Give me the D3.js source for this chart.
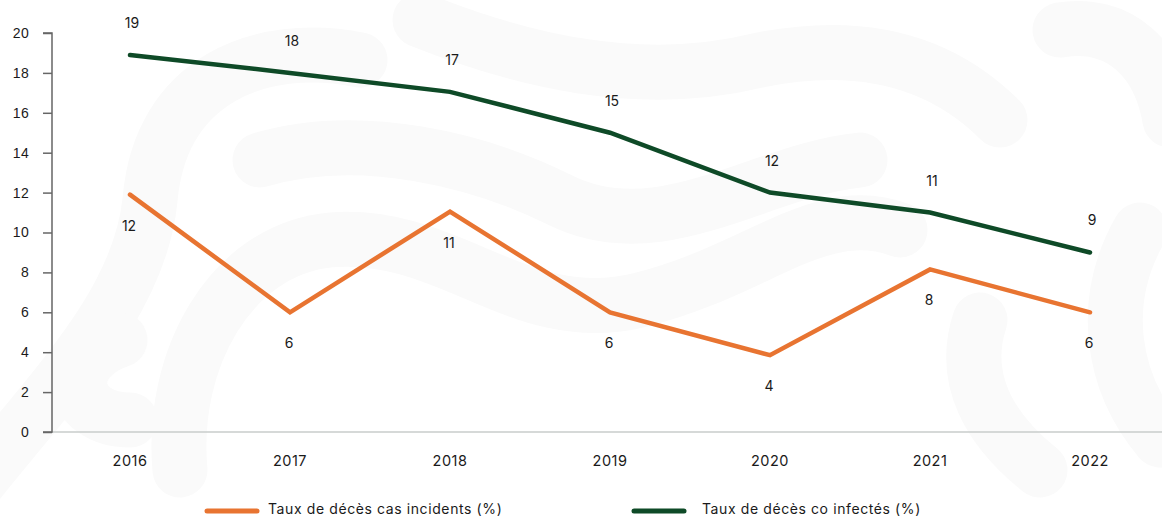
<!DOCTYPE html>
<meta charset="utf-8">
<script src="https://cdn.jsdelivr.net/npm/d3@7/dist/d3.min.js"></script>
<style>
    body { margin: 0; background: #fff; }
    svg { font-family: "Inter", "Lato", sans-serif; }
    .tick text { fill: #1a1a1a; }
    .deco { fill: none; stroke: #fafafa; stroke-linecap: round; }
    .line { fill: none; stroke-width: 4.5; stroke-linejoin: miter; stroke-linecap: round; }
    .val { font-size: 14px; fill: #1a1a1a; text-anchor: middle; }
</style>
<body>
<script>

    var years = ["2016", "2017", "2018", "2019", "2020", "2021", "2022"]
    var incidents = [11.9, 6.0, 11.05, 6.0, 3.85, 8.15, 6.0]
    var coInfected = [18.9, 18.0, 17.05, 15.0, 12.0, 11.0, 9.0]
    var yTicks = [0, 2, 4, 6, 8, 10, 12, 14, 16, 18, 20]
    var seriesNames = ["Taux de décès cas incidents (%)", "Taux de décès co infectés (%)"]
    var colors = ["#E87431", "#0E4A27"]

    var w = 1162, h = 517
    var svg = d3.select("body").append("svg").attr("width", w).attr("height", h)

    // faint background swirls
    var deco = svg.append("g")
    var decoPaths = [
        "M-20,480 C60,380 140,300 150,200 C160,80 260,40 360,60",
        "M180,470 C170,360 230,250 330,240 C450,230 520,330 640,300 C760,270 820,200 900,230",
        "M420,20 C520,60 640,90 760,60 C860,40 940,60 1000,120",
        "M260,160 C360,130 480,160 560,200 C660,250 760,170 860,160",
        "M1060,30 C1120,20 1160,60 1170,120",
        "M1140,230 C1100,300 1110,380 1160,440",
        "M980,320 C960,380 990,430 1040,470",
        "M120,340 C60,360 70,420 130,420"
    ]
    deco.selectAll("path").data(decoPaths).enter().append("path")
        .attr("class", "deco").attr("d", d => d).attr("stroke-width", 55)

    var x = d3.scaleBand().domain(years).range([50, 1170])
    var y = d3.scaleLinear().domain([0, 20]).range([432, 33])
    var cx = d => x(d) + x.bandwidth() / 2

    // x axis line
    svg.append("line").attr("x1", 52).attr("x2", w).attr("y1", y(0)).attr("y2", y(0))
        .attr("stroke", "#c9cdcb").attr("stroke-width", 1.5)

    // y axis
    var yAxis = d3.axisLeft(y).tickValues(yTicks).tickSize(9).tickPadding(14)
    var gy = svg.append("g").attr("transform", "translate(52,0)").call(yAxis)
    gy.select(".domain").attr("stroke", "#666").attr("stroke-width", 1.5).attr("d", "M-9," + y(20) + "H0V" + y(0) + "H-9")
    gy.selectAll(".tick line").attr("stroke", "#666").attr("stroke-width", 1.5)
    gy.selectAll(".tick text").style("font-size", "14px").style("letter-spacing", "0.3px")

    // x labels
    svg.append("g").selectAll("text").data(years).enter().append("text")
        .attr("x", d => cx(d)).attr("y", 466).attr("text-anchor", "middle")
        .style("font-size", "14.5px").style("letter-spacing", "0.5px").attr("fill", "#1a1a1a").text(d => d)

    var line = d3.line().x((d, i) => cx(years[i])).y(d => y(d))

    svg.append("path").datum(coInfected).attr("class", "line").attr("d", line).attr("stroke", colors[1])
    svg.append("path").datum(incidents).attr("class", "line").attr("d", line).attr("stroke", colors[0])

    svg.append("g").selectAll("text").data(coInfected).enter().append("text")
        .attr("class", "val").attr("x", (d, i) => cx(years[i]) + 2).attr("y", d => y(d) - 27)
        .text(d => Math.round(d))
    svg.append("g").selectAll("text").data(incidents).enter().append("text")
        .attr("class", "val").attr("x", (d, i) => cx(years[i]) - 1).attr("y", d => y(d) + 36)
        .text(d => Math.round(d))

    // legend
    var legendX = [205, 632]
    seriesNames.forEach((name, i) => {
        var g = svg.append("g").attr("transform", "translate(" + legendX[i] + ",511)")
        g.append("line").attr("x1", 2).attr("x2", 52).attr("y1", 0).attr("y2", 0)
            .attr("stroke", colors[i]).attr("stroke-width", 5).attr("stroke-linecap", "round")
        g.append("text").attr("x", i == 0 ? 63 : 70).attr("y", 3).style("font-size", "14px")
            .style("letter-spacing", "0.6px").attr("fill", "#1a1a1a").text(name)
    })

</script>
</body>
